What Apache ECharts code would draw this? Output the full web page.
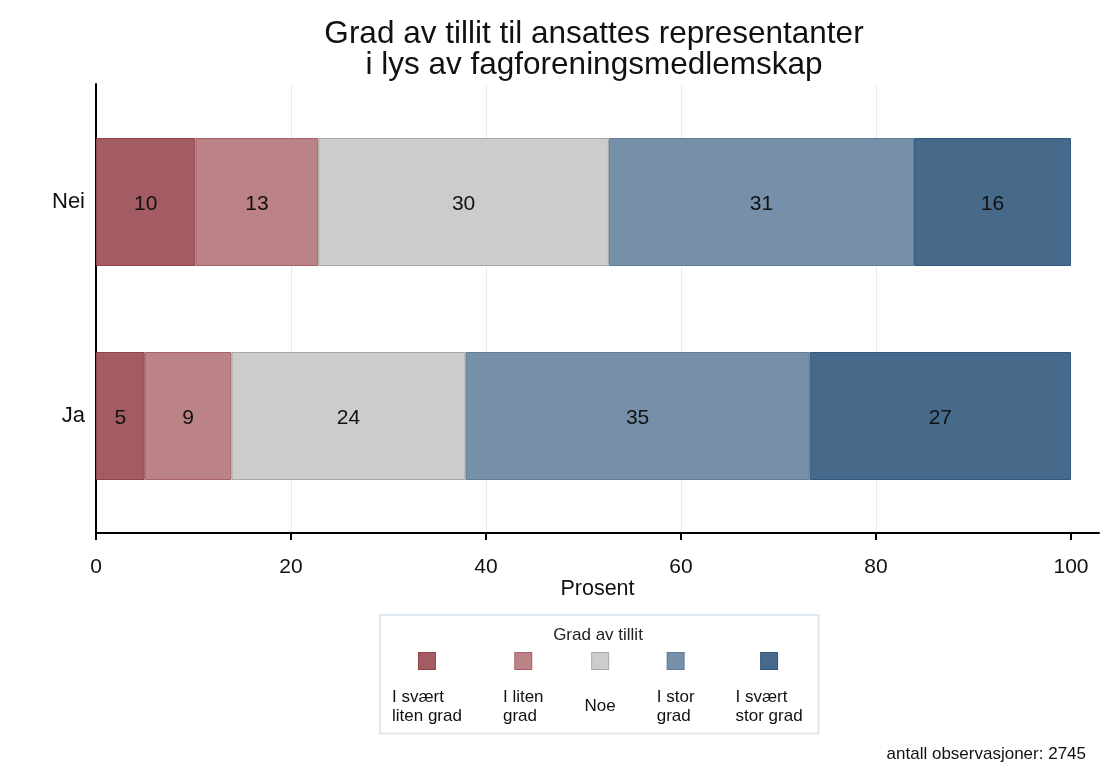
<!DOCTYPE html>
<html>
<head>
<meta charset="utf-8">
<script src="https://cdn.jsdelivr.net/npm/echarts@6/dist/echarts.min.js"></script>
<style>
html,body{margin:0;padding:0;background:#fff;}
#chart{width:1113px;height:763px;}
</style>
</head>
<body>
<div id="chart"></div>
<script>
// ---- data ----
const categories = ['Ja', 'Nei'];
const seriesNames = ['I svært liten grad', 'I liten grad', 'Noe', 'I stor grad', 'I svært stor grad'];
const legendLines = [['I svært', 'liten grad'], ['I liten', 'grad'], ['Noe'], ['I stor', 'grad'], ['I svært', 'stor grad']];
// values per series: [Ja, Nei]
const svaertLiten = [5.0, 10.2];
const liten = [8.9, 12.6];
const noe = [24.0, 29.8];
const stor = [35.3, 31.3];
const svaertStor = [26.8, 16.1];
const xTicks = [0, 20, 40, 60, 80, 100];
const titleText = 'Grad av tillit til ansattes representanter\ni lys av fagforeningsmedlemskap';
const legendTitle = 'Grad av tillit';
const footnote = 'antall observasjoner: 2745';

const seriesValues = [svaertLiten, liten, noe, stor, svaertStor];
const colors = ['#a35c62', '#bc8386', '#cccccc', '#7690a9', '#476a8b'];
const borders = ['#94434b', '#a9606a', '#a9a9a9', '#5f7d99', '#2e5a82'];
const FONT = 'Liberation Sans, Arial, sans-serif';
const XMAX = 102.87;

const rich = { t: { fontSize: 17, lineHeight: 19, color: '#111', fontFamily: FONT, align: 'left' },
               tn: { fontSize: 17, lineHeight: 38, color: '#111', fontFamily: FONT, align: 'left' } };
colors.forEach((c, i) => {
  rich['sq' + i] = { width: 16, height: 16, lineHeight: 53, backgroundColor: c, borderColor: borders[i], borderWidth: 1, align: 'center' };
});

const chart = echarts.init(document.getElementById('chart'));
chart.setOption({
  animation: false,
  backgroundColor: '#fff',
  title: [
    { text: titleText, left: 594, top: 19, padding: 0, textAlign: 'center',
      textStyle: { fontFamily: FONT, fontSize: 31.5, fontWeight: 'normal', color: '#111', lineHeight: 31 } },
    { text: legendTitle, left: 598, top: 626, padding: 0, textAlign: 'center',
      textStyle: { fontFamily: FONT, fontSize: 17, fontWeight: 'normal', color: '#222', lineHeight: 18 } },
    { text: footnote, right: 27, top: 745, padding: 0,
      textStyle: { fontFamily: FONT, fontSize: 17, fontWeight: 'normal', color: '#111', lineHeight: 18 } }
  ],
  legend: {
    data: seriesNames,
    left: 380, top: 615,
    padding: [37, 16, 9, 7],
    borderColor: '#dfe8ee', borderWidth: 2,
    icon: 'none', itemWidth: 0, itemHeight: 0, itemGap: 36,
    selectedMode: false,
    formatter: function (name) {
      const i = seriesNames.indexOf(name);
      const lines = legendLines[i];
      if (lines.length === 1) return '{sq' + i + '|}\n{tn|' + lines[0] + '}';
      return '{sq' + i + '|}\n' + lines.map(l => '{t|' + l + '}').join('\n');
    },
    textStyle: { rich: rich, fontFamily: FONT }
  },
  grid: [
    { left: 96, right: 14, top: 95, bottom: 240 },
    { left: 96, right: 14, top: 84, bottom: 230 }
  ],
  xAxis: [
    { type: 'value', gridIndex: 0, min: 0, max: XMAX, show: false },
    { type: 'value', gridIndex: 1, min: 0, max: XMAX, interval: 20,
      name: 'Prosent', nameLocation: 'middle', nameGap: 45, nameMoveOverlap: false,
      nameTextStyle: { fontFamily: FONT, fontSize: 21.5, color: '#111' },
      axisLine: { show: true, lineStyle: { color: '#000', width: 2 } },
      axisTick: { show: true, length: 7, customValues: xTicks, lineStyle: { color: '#000', width: 2 } },
      axisLabel: { customValues: xTicks, margin: 24, fontFamily: FONT, fontSize: 21, color: '#111' },
      splitLine: { show: true, showMinLine: false, showMaxLine: false, lineStyle: { color: '#e3edf2', width: 1 } }
    }
  ],
  yAxis: [
    { type: 'category', gridIndex: 0, data: categories,
      axisLine: { show: false }, axisTick: { show: false },
      axisLabel: { margin: 11, fontFamily: FONT, fontSize: 22, color: '#111' } },
    { type: 'value', gridIndex: 1, min: 0, max: 1,
      axisLine: { show: true, onZero: false, lineStyle: { color: '#000', width: 2 } },
      axisTick: { show: false }, axisLabel: { show: false }, splitLine: { show: false } }
  ],
  series: seriesNames.map((name, i) => ({
    name: name,
    type: 'bar',
    stack: 'total',
    xAxisIndex: 0, yAxisIndex: 0,
    barWidth: 128,
    data: seriesValues[i],
    itemStyle: { color: colors[i], borderColor: borders[i], borderWidth: 1 },
    label: { show: true, position: 'inside', offset: [0, 2], fontFamily: FONT, fontSize: 21, color: '#111',
      formatter: p => Math.round(p.value) }
  }))
});
</script>
</body>
</html>
